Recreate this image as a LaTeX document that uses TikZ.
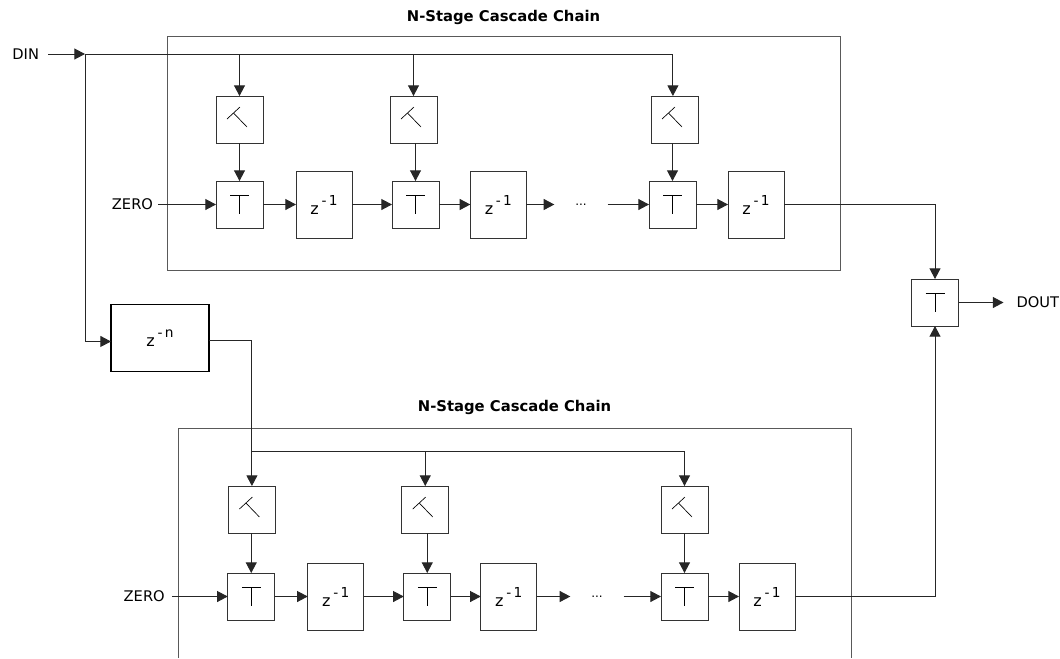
\documentclass[tikz,border=0pt]{standalone}
\usepackage{fontspec}
\setmainfont{DejaVu Sans}
\usetikzlibrary{positioning, arrows.meta}
\newcommand{\zpow}[1]{\fontsize{12}{14}\selectfont z\,\raisebox{6.75pt}{\fontsize{10.3}{12}\selectfont -\,#1}}

\begin{document}
\begin{tikzpicture}[
  x=0.75pt, y=-0.75pt,
  >={Triangle[length=8pt,width=8.25pt]},
  every node/.style={font=\fontsize{11}{13}\selectfont},
  box/.style    = {draw=black!80, line width=0.7pt, inner sep=0pt, outer sep=0pt, minimum size=35.25pt},
  adder/.style  = {box, path picture={\draw[black, line width=0.5pt, shift={(path picture bounding box.center)}] (-9.5,-9.5) -- (9.5,-9.5) (0,-9.5) -- (0,9.5);}},
  mult/.style   = {box, path picture={\draw[black, line width=0.5pt, shift={(path picture bounding box.center)}] (0.5,-12.5) -- (-12.5,-0.5) (-6,-6.5) -- (7.5,7.5);}},
  delay/.style  = {box, minimum width=42pt, minimum height=50.25pt},
  delayn/.style = {delay, draw=black, line width=1pt, minimum width=73.5pt},
  frame/.style  = {draw=black!65, line width=0.7pt},
  title/.style  = {font=\fontsize{11.1}{13}\selectfont\bfseries},
  lbl/.style    = {inner ysep=0pt, inner xsep=3.75pt, outer sep=0pt},
  gap/.style    = {inner sep=0pt, outer sep=0pt, minimum width=40pt, font=\fontsize{9}{11}\selectfont},
  arr/.style    = {->, draw=black!85, line width=0.7pt},
]
  \useasboundingbox (0,0) rectangle (1060,658);

  % upper chain
  \node[frame, outer sep=0pt, minimum width=504.75pt, minimum height=175.5pt] (chain1) at (503.5,153) {};
  \node[title, above=5pt of chain1] (title1) {N-Stage Cascade Chain};
  \node[adder]                             (a1) at (239.5,204.5) {};
  \node[delay, right=24.75pt of a1]        (z1) {\zpow{1}};
  \node[adder, right=30pt of z1]           (a2) {};
  \node[delay, right=23.5pt of a2]         (z2) {\zpow{1}};
  \node[adder]                             (a3) at (672.5,204.5) {};
  \node[delay, right=24pt of a3]           (z3) {\zpow{1}};
  \node[mult, above=28.5pt of a1]          (m1) {};
  \node[mult, above=28.5pt of a2, xshift=-1.5pt] (m2) {};
  \node[mult, above=28.5pt of a3, xshift=1.5pt]  (m3) {};
  \node[gap] (dots1) at (581,204.5) {...};
  \node[lbl, left=43.5pt of a1] (zero1) {ZERO};
  \node[lbl, inner xsep=6.75pt, anchor=east] (din) at (48,54) {DIN};
  \coordinate (bus1) at (85,54);

  % delay line
  \node[delayn] (zn) at (160,338) {\zpow{n}};

  % lower chain
  \draw[frame] (178,658) |- (851,428) -- (851,658);
  \node[title] (title2) at (514.5,407) {N-Stage Cascade Chain};
  \node[adder]                             (a4) at (251.25,596.5) {};
  \node[delay, right=24.75pt of a4]        (z4) {\zpow{1}};
  \node[adder, right=30pt of z4]           (a5) {};
  \node[delay, right=22.5pt of a5]         (z5) {\zpow{1}};
  \node[adder]                             (a6) at (684.5,596.5) {};
  \node[delay, right=23.25pt of a6]        (z6) {\zpow{1}};
  \node[mult, above=30pt of a4, xshift=0.5pt]  (m4) {};
  \node[mult, above=30pt of a5, xshift=-1.5pt] (m5) {};
  \node[mult, above=30pt of a6]            (m6) {};
  \node[gap] (dots2) at (597,596.5) {...};
  \node[lbl, inner xsep=5.25pt, left=42pt of a4] (zero2) {ZERO};
  \coordinate (bus2) at (252,451);

  % output
  \node[adder] (f) at (935,302.5) {};
  \node[lbl, inner xsep=9.75pt, right=33.75pt of f] (dout) {DOUT};

  \foreach \a/\b in {din/bus1,zero1/a1,a1/z1,z1/a2,a2/z2,z2/dots1,dots1/a3,a3/z3,zero2/a4,a4/z4,z4/a5,a5/z5,z5/dots2,dots2/a6,a6/z6,f/dout}\draw[arr](\a)--(\b);
  \foreach \m/\a in {m1/a1,m2/a2,m3/a3,m4/a4,m5/a5,m6/a6}\draw[arr](\a |- \m.south)--(\a);
  \foreach \m in {m1,m2}\draw[arr](bus1)-|(\m);
  \draw[arr](bus1)-|([xshift=-1.2pt]m3.north);
  \draw[arr](bus1)|-([yshift=-2.6pt]zn.west);
  \draw[arr]([yshift=-2.2pt]zn.east)-|(m4);
  \foreach \m in {m5,m6}\draw[arr](bus2)-|(\m);
  \draw[arr](z3)-|(f);
  \draw[arr](z6)-|(f);
\end{tikzpicture}
\end{document}
